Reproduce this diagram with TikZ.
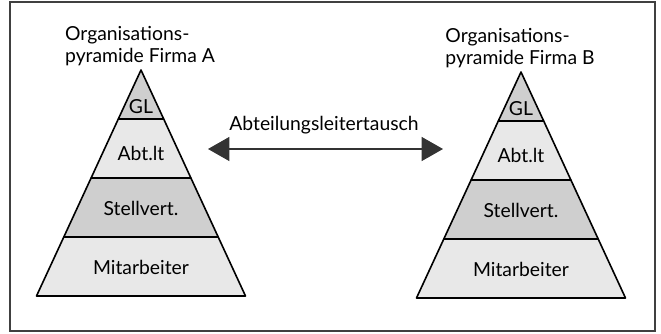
\documentclass[tikz,border=0pt]{standalone}
\usepackage{fontspec}
\setmainfont{Lato}
\usetikzlibrary{arrows.meta}

\tikzset{
  level dark/.style={fill=gray!38, draw=black, line width=1.2pt, line join=round},
  level light/.style={fill=gray!18, draw=black, line width=1.2pt, line join=round},
  level label/.style={font=\fontsize{14.5}{17}\selectfont, inner sep=1pt},
  title label/.style={font=\fontsize{14.5}{16}\selectfont, align=left, inner sep=0pt},
  swap arrow/.style={{Triangle[length=16pt,width=18pt]}-{Triangle[length=16pt,width=18pt]}, line width=0.8pt, black!80},
}

\begin{document}
\begin{tikzpicture}[x=0.75pt, y=-0.75pt]
  \useasboundingbox (0,0) rectangle (661,333);
  \draw[line width=1.2pt, black!75] (10,2) rectangle (655,331);

  \foreach \firm/\dx/\dy in {A/0/0, B/380/2} {
    \begin{scope}[shift={(\dx,\dy)}]
      \node[title label] (title\firm) at (140,46) {Organisations-\\pyramide Firma \firm};
      % levels, top to bottom
      \draw[level dark]  (141,70) -- (163.7,119) -- (118.3,119) -- cycle;
      \draw[level light] (118.3,119) -- (163.7,119) -- (190.9,178) -- (91.1,178) -- cycle;
      \draw[level dark]  (91.1,178) -- (190.9,178) -- (218.2,237) -- (63.8,237) -- cycle;
      \draw[level light] (63.8,237) -- (218.2,237) -- (245.5,296) -- (36.5,296) -- cycle;
      \node[level label] (gl\firm) at (141,107) {GL};
      \node[level label] (abt\firm) at (141,153) {Abt.lt};
      \node[level label] (stv\firm) at (141,208) {Stellvert.};
      \node[level label] (mit\firm) at (141,267) {Mitarbeiter};
    \end{scope}
  }

  \coordinate (swapL) at (208,149);
  \coordinate (swapR) at (443,149);
  \node[level label] (swaplabel) at (324,125) {Abteilungsleitertausch};
  \draw[swap arrow] (swapL) -- (swapR);
\end{tikzpicture}
\end{document}
